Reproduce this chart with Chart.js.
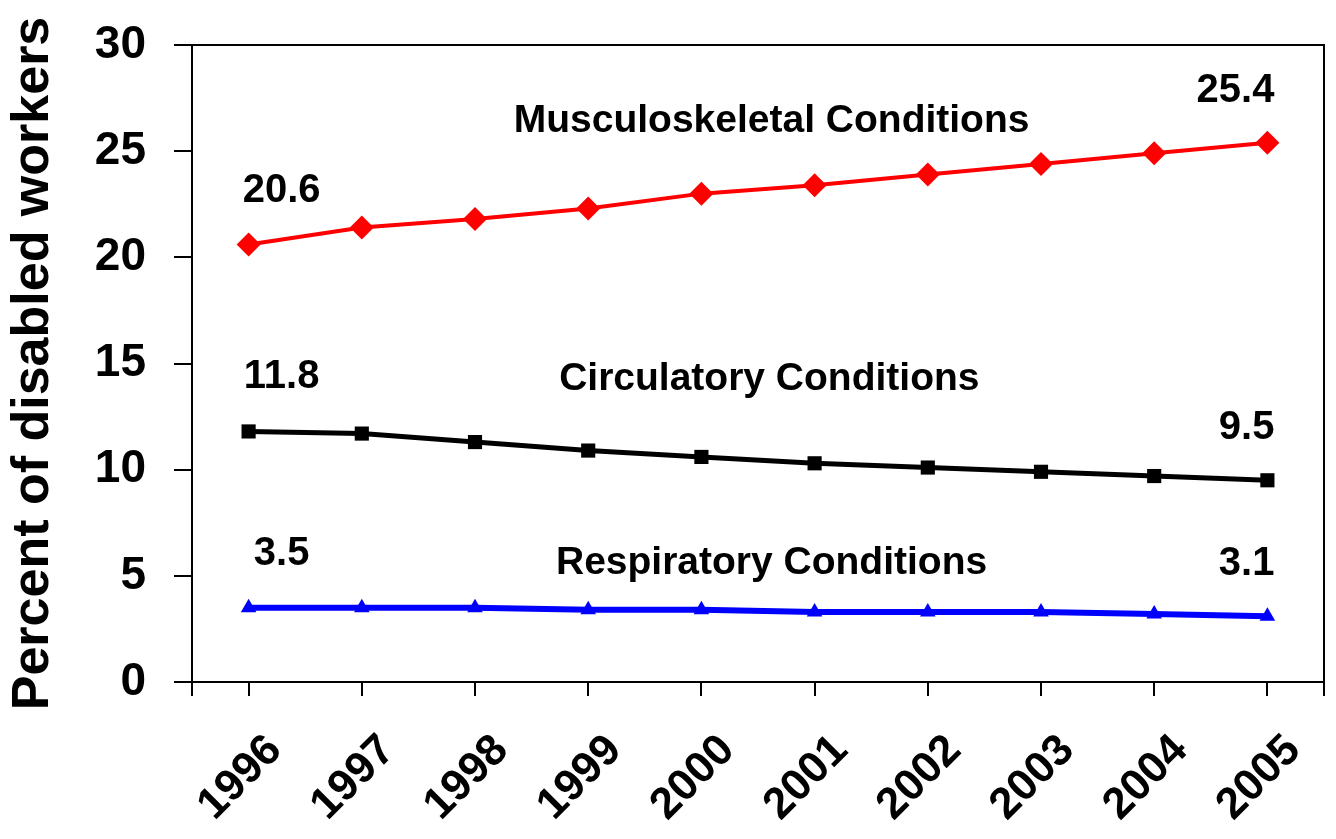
<!DOCTYPE html>
<html>
<head>
<meta charset="utf-8">
<script src="https://cdn.jsdelivr.net/npm/chart.js@4/dist/chart.umd.min.js"></script>
<style>
  html, body { margin: 0; padding: 0; background: #fff; }
  #wrap { width: 1336px; height: 839px; position: relative; }
</style>
</head>
<body>
<div id="wrap"><canvas id="c" width="1336" height="839"></canvas></div>
<script>
// ---- data ----
const years = ['1996','1997','1998','1999','2000','2001','2002','2003','2004','2005'];
const musculoskeletal = [20.6, 21.4, 21.8, 22.3, 23.0, 23.4, 23.9, 24.4, 24.9, 25.4];
const circulatory     = [11.8, 11.7, 11.3, 10.9, 10.6, 10.3, 10.1, 9.9, 9.7, 9.5];
const respiratory     = [3.5, 3.5, 3.5, 3.4, 3.4, 3.3, 3.3, 3.3, 3.2, 3.1];
const seriesNames = ['Musculoskeletal Conditions', 'Circulatory Conditions', 'Respiratory Conditions'];
const yTicks = [0, 5, 10, 15, 20, 25, 30];
const yTitle = 'Percent of disabled workers';

// label placement (in data units) for the series-name annotations
const nameAnchors = [
  { x: 4.62, y: 26.4 },
  { x: 4.60, y: 14.25 },
  { x: 4.62, y: 5.60 }
];

const FONT = '"Liberation Sans", Arial, sans-serif';

const annotPlugin = {
  id: 'annot',
  afterDatasetsDraw(chart) {
    const ctx = chart.ctx;
    const xs = chart.scales.x, ys = chart.scales.y;
    const area = chart.chartArea;
    ctx.save();
    // frame: top and right borders, axis extensions
    ctx.strokeStyle = '#000';
    ctx.lineWidth = 2;
    ctx.beginPath();
    ctx.moveTo(area.left - 18, area.top);
    ctx.lineTo(area.right, area.top);
    ctx.lineTo(area.right, area.bottom + 14);
    ctx.moveTo(area.left, area.bottom);
    ctx.lineTo(area.left, area.bottom + 14);
    ctx.stroke();

    ctx.fillStyle = '#000';
    // x tick labels (rotated), positioned from the category scale
    ctx.font = 'bold 44px ' + FONT;
    ctx.textAlign = 'right';
    ctx.textBaseline = 'alphabetic';
    xs.ticks.forEach((t, i) => {
      const px = xs.getPixelForTick(i);
      ctx.save();
      ctx.translate(px + 35, area.bottom + 70);
      ctx.rotate(-Math.PI / 4);
      ctx.fillText(years[i], 0, 0);
      ctx.restore();
    });

    // series names
    ctx.font = 'bold 39px ' + FONT;
    ctx.textAlign = 'center';
    ctx.textBaseline = 'middle';
    seriesNames.forEach((n, i) => {
      ctx.fillText(n, xs.getPixelForValue(nameAnchors[i].x), ys.getPixelForValue(nameAnchors[i].y));
    });
    // first and last values
    ctx.font = 'bold 40px ' + FONT;
    const sets = [musculoskeletal, circulatory, respiratory];
    const last = years.length - 1;
    sets.forEach(arr => {
      const x0 = xs.getPixelForValue(0), y0 = ys.getPixelForValue(arr[0]);
      ctx.textAlign = 'center';
      ctx.fillText(arr[0].toFixed(1), x0 + 33, y0 - 54);
      const x1 = xs.getPixelForValue(last), y1 = ys.getPixelForValue(arr[last]);
      ctx.textAlign = 'right';
      ctx.fillText(arr[last].toFixed(1), x1 + 7, y1 - 52);
    });
    ctx.restore();
  }
};

new Chart(document.getElementById('c'), {
  type: 'line',
  data: {
    labels: years,
    datasets: [
      { label: seriesNames[0], data: musculoskeletal, borderColor: '#ff0000', backgroundColor: '#ff0000',
        borderWidth: 4, pointStyle: 'rectRot', pointRadius: 12, pointHoverRadius: 12, pointBorderWidth: 0 },
      { label: seriesNames[1], data: circulatory, borderColor: '#000000', backgroundColor: '#000000',
        borderWidth: 5, pointStyle: 'rect', pointRadius: 10, pointHoverRadius: 10, pointBorderWidth: 0 },
      { label: seriesNames[2], data: respiratory, borderColor: '#0000ff', backgroundColor: '#0000ff',
        borderWidth: 6, pointStyle: 'triangle', pointRadius: 9, pointHoverRadius: 9, pointBorderWidth: 0 }
    ]
  },
  options: {
    responsive: false,
    animation: false,
    events: [],
    layout: { padding: { top: 45, right: 12, left: 0, bottom: 0 } },
    plugins: { legend: { display: false }, tooltip: { enabled: false } },
    scales: {
      x: {
        offset: true,
        afterFit(s) { s.height = 157; },
        grid: { drawOnChartArea: false, drawTicks: true, tickLength: 14, color: '#000', lineWidth: 2, offset: false },
        border: { color: '#000', width: 2 },
        ticks: { display: false, autoSkip: false }
      },
      y: {
        min: 0, max: 30,
        afterFit(s) { s.width = 192; },
        afterBuildTicks(s) { s.ticks = yTicks.map(v => ({ value: v })); },
        grid: { drawOnChartArea: false, drawTicks: true, tickLength: 18, color: '#000', lineWidth: 2 },
        border: { color: '#000', width: 2 },
        ticks: { color: '#000', font: { family: FONT, size: 46, weight: 'bold', lineHeight: 0.7 }, padding: 28 },
        title: { display: true, text: yTitle, color: '#000', font: { family: FONT, size: 52, weight: 'bold', lineHeight: 1.2 }, padding: { top: 2, bottom: 0 } }
      }
    }
  },
  plugins: [annotPlugin]
});
</script>
</body>
</html>
